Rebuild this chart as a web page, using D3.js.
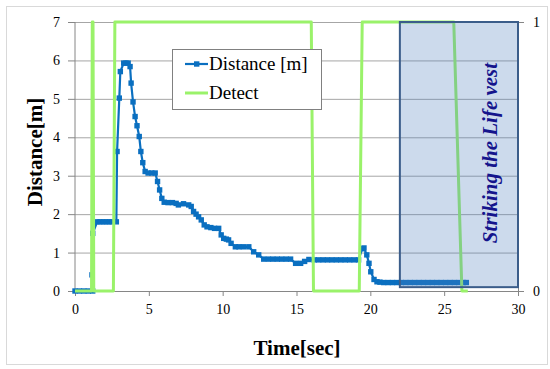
<!DOCTYPE html>
<html>
<head>
<meta charset="utf-8">
<script src="https://cdn.jsdelivr.net/npm/d3@7"></script>
<style>
  body { margin: 0; background: #fff; }
  text { font-family: "Liberation Serif", "Times New Roman", serif; }
</style>
</head>
<body>
<div id="chart"></div>
<script>
// distance measured by the sensor [m]
var distTime = [0, 0.3, 0.6, 0.9, 1.2, 1.15, 1.2,
  1.5, 1.7, 1.9, 2.1, 2.3, 2.5, 2.8,
  2.85, 3.0, 3.07, 3.3, 3.45, 3.6, 3.73, 3.8, 3.93, 4.07, 4.2, 4.35, 4.46, 4.59, 4.75,
  4.95, 5.2, 5.43, 5.59, 5.73, 5.88, 6.04, 6.3, 6.6, 6.85, 7.0, 7.35, 7.7, 7.87,
  8.03, 8.2, 8.37, 8.55, 8.75, 8.94, 9.2, 9.45, 9.73, 9.9, 10.07, 10.25, 10.4, 10.57,
  10.86, 11.1, 11.4, 11.77, 12.1, 12.44, 12.78, 13.1, 13.4, 13.7, 14.0, 14.3, 14.6,
  14.94, 15.28, 15.55, 15.84, 16.2, 16.5, 16.8, 17.1, 17.4, 17.7, 18.0, 18.3, 18.6,
  18.9, 19.2, 19.45, 19.57, 19.76, 19.91, 20.03, 20.25, 20.45, 20.65,
  20.9, 21.2, 21.5, 21.8, 22.1, 22.4, 22.7, 23.0, 23.3, 23.6, 23.9, 24.2, 24.5,
  24.8, 25.1, 25.4, 25.7, 26.0, 26.3, 26.5];
var distValue = [0, 0, 0, 0, 0, 0.42, 1.5,
  1.8, 1.8, 1.8, 1.8, 1.8, 1.8, 1.8,
  3.63, 5.02, 5.71, 5.93, 5.93, 5.93, 5.84, 5.41, 4.92, 4.54, 4.3, 4.02, 3.63, 3.34, 3.11,
  3.07, 3.07, 3.07, 2.85, 2.63, 2.41, 2.31, 2.3, 2.3, 2.28, 2.24, 2.27, 2.24, 2.2,
  2.07, 2.0, 1.93, 1.85, 1.72, 1.67, 1.65, 1.63, 1.63, 1.46, 1.37, 1.35, 1.33, 1.24,
  1.15, 1.15, 1.15, 1.15, 1.02, 0.94, 0.83, 0.83, 0.83, 0.83, 0.83, 0.83, 0.83,
  0.72, 0.72, 0.77, 0.82, 0.81, 0.81, 0.81, 0.81, 0.81, 0.81, 0.81, 0.81, 0.81,
  0.81, 0.81, 1.1, 1.12, 0.94, 0.72, 0.5, 0.3, 0.24, 0.23,
  0.22, 0.22, 0.22, 0.22, 0.22, 0.22, 0.22, 0.22, 0.22, 0.22, 0.22, 0.22, 0.22,
  0.22, 0.22, 0.22, 0.22, 0.22, 0.22, 0.22];

// detection signal (secondary axis, 0/1)
var detectTime = [0, 1.12, 1.17, 1.22, 1.27, 2.6, 2.7, 16.0, 16.15, 19.25, 19.45, 25.65, 26.2, 26.6];
var detectValue = [0, 0, 1, 1, 0, 0, 1, 1, 0, 0, 1, 1, 0, 0];

var xTicks = [0, 5, 10, 15, 20, 25, 30];
var yTicks = [0, 1, 2, 3, 4, 5, 6, 7];
var y2Ticks = [0, 1];
var seriesNames = ["Distance [m]", "Detect"];

// annotated interval: time span and height range (in metres)
var noteTime = [22, 30];
var noteDist = [0.1, 7];
var noteText = "Striking the Life vest";

var width = 550, height = 369;
var blue = "#0a6fc0", green = "#9af26a";

var x = d3.scaleLinear().domain([0, 30]).range([75, 518]);
var y = d3.scaleLinear().domain([0, 7]).range([291, 22]);
var y2 = d3.scaleLinear().domain([0, 1]).range([291, 22]);

var svg = d3.select("#chart").append("svg")
  .attr("width", width)
  .attr("height", height);

// outer border
svg.append("rect")
  .attr("x", 6.5).attr("y", 6.5)
  .attr("width", 541).attr("height", 358)
  .attr("fill", "#fff")
  .attr("stroke", "#d9d9d9");

/* gridlines */
svg.append("g")
  .attr("transform", "translate(75,0)")
  .call(d3.axisLeft(y).tickValues(yTicks.slice(1)).tickSize(-(518 - 75)).tickFormat(""))
  .call(g => g.select(".domain").remove())
  .selectAll("line").attr("stroke", "#a6a6a6");

/* axes */
var fmt = d3.format("d");
var xAxis = svg.append("g")
  .attr("transform", "translate(0,291)")
  .call(d3.axisBottom(x).tickValues(xTicks).tickFormat(fmt).tickSize(5).tickPadding(8).tickSizeOuter(0));
var yAxis = svg.append("g")
  .attr("transform", "translate(75,0)")
  .call(d3.axisLeft(y).tickValues(yTicks).tickFormat(fmt).tickSize(7).tickPadding(8).tickSizeOuter(0));
var y2Axis = svg.append("g")
  .attr("transform", "translate(518,0)")
  .call(d3.axisRight(y2).tickValues(y2Ticks).tickFormat(fmt).tickSize(6).tickPadding(9).tickSizeOuter(0));

[xAxis, yAxis, y2Axis].forEach(function(g) {
  g.attr("font-family", "Liberation Serif").attr("font-size", 14);
  g.selectAll(".domain, line").attr("stroke", "#868686");
  g.selectAll("text").attr("fill", "#000");
});
yAxis.select(".domain").attr("d", "M0,291V22");

/* lines */
var distData = distTime.map((t, i) => ({t: t, v: distValue[i]}));
var detData = detectTime.map((t, i) => ({t: t, v: detectValue[i]}));

var distLine = d3.line().x(d => x(d.t)).y(d => y(d.v));
var detLine = d3.line().x(d => x(d.t)).y(d => y2(d.v));

svg.append("path")
  .attr("d", distLine(distData))
  .attr("fill", "none")
  .attr("stroke", blue)
  .attr("stroke-width", 2.2);

svg.append("g")
  .selectAll("rect")
  .data(distData).enter()
  .append("rect")
  .attr("x", d => x(d.t) - 2.7)
  .attr("y", d => y(d.v) - 2.7)
  .attr("width", 5.4)
  .attr("height", 5.4)
  .attr("fill", blue);

svg.append("path")
  .attr("d", detLine(detData))
  .attr("fill", "none")
  .attr("stroke", green)
  .attr("stroke-width", 3)
  .attr("stroke-linejoin", "round");

/* annotation box */
svg.append("rect")
  .attr("x", x(noteTime[0]))
  .attr("y", y(noteDist[1]))
  .attr("width", x(noteTime[1]) - x(noteTime[0]))
  .attr("height", y(noteDist[0]) - y(noteDist[1]))
  .attr("fill", "#4f81bd")
  .attr("fill-opacity", 0.29)
  .attr("stroke", "#3b5d8a")
  .attr("stroke-width", 2);

svg.append("text")
  .attr("transform", "translate(" + 497 + "," + 153 + ") rotate(-90)")
  .attr("text-anchor", "middle")
  .attr("fill", "#14148c")
  .style("font-size", "21px")
  .style("font-weight", "bold")
  .style("font-style", "italic")
  .text(noteText);

/* legend */
var legend = svg.append("g");
legend.append("rect")
  .attr("x", 172.5).attr("y", 49.5)
  .attr("width", 149).attr("height", 60)
  .attr("fill", "#fff")
  .attr("stroke", "#808080");

var entries = legend.selectAll(".entry")
  .data(seriesNames).enter()
  .append("g")
  .attr("transform", (d, i) => "translate(185," + (64 + i * 29) + ")");
entries.append("line")
  .attr("x1", 0).attr("x2", 23)
  .attr("stroke", (d, i) => i == 0 ? blue : green)
  .attr("stroke-width", (d, i) => i == 0 ? 2.2 : 3);
entries.filter((d, i) => i == 0).append("rect")
  .attr("x", 9).attr("y", -2.7)
  .attr("width", 5.4).attr("height", 5.4)
  .attr("fill", blue);
entries.append("text")
  .attr("x", 24)
  .attr("y", 6)
  .style("font-size", "19px")
  .text(d => d);

/* axis titles */
svg.append("text")
  .attr("x", 297)
  .attr("y", 355)
  .attr("text-anchor", "middle")
  .style("font-size", "21px")
  .style("font-weight", "bold")
  .text("Time[sec]");

svg.append("text")
  .attr("transform", "translate(42,152) rotate(-90)")
  .attr("text-anchor", "middle")
  .style("font-size", "21px")
  .style("font-weight", "bold")
  .text("Distance[m]");
</script>
</body>
</html>
